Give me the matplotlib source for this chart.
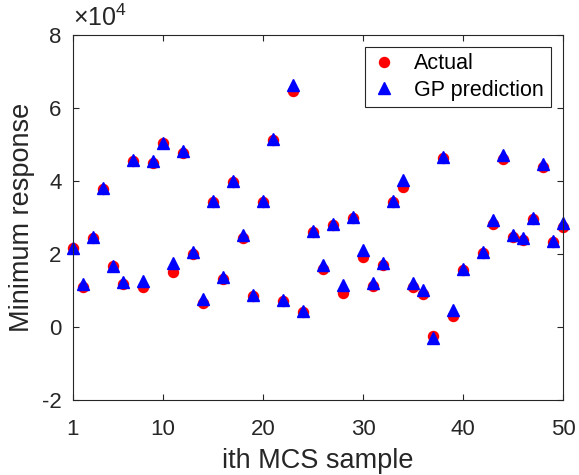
import numpy as np
import matplotlib
matplotlib.use('Agg')
import matplotlib.pyplot as plt

plt.rcParams['font.family'] = ['Liberation Sans', 'DejaVu Sans']
plt.rcParams['mathtext.fontset'] = 'custom'
plt.rcParams['mathtext.rm'] = 'Liberation Sans'
plt.rcParams['mathtext.it'] = 'Liberation Sans'
plt.rcParams['axes.unicode_minus'] = False

# sample index and responses (units of 1e4)
samples = np.arange(1, 51)
actual = [2.15, 1.10, 2.44, 3.78, 1.65, 1.17, 4.53, 1.10, 4.50, 5.04,
          1.49, 4.76, 2.00, 0.66, 3.43, 1.32, 3.97, 2.42, 0.83, 3.43,
          5.12, 0.69, 6.47, 0.40, 2.60, 1.58, 2.78, 0.93, 2.98, 1.90,
          1.12, 1.70, 3.41, 3.82, 1.10, 0.89, -0.26, 4.63, 0.30, 1.56,
          6.90, 2.03, 2.82, 4.61, 2.47, 2.39, 2.94, 4.39, 2.32, 2.74]
gp_pred = [2.17, 1.16, 2.46, 3.81, 1.67, 1.23, 4.56, 1.26, 4.53, 5.05,
           1.75, 4.82, 2.06, 0.75, 3.45, 1.35, 3.99, 2.51, 0.86, 3.45,
           5.14, 0.73, 6.63, 0.43, 2.63, 1.69, 2.81, 1.14, 3.01, 2.11,
           1.21, 1.75, 3.44, 4.02, 1.19, 1.00, -0.32, 4.66, 0.45, 1.58,
           7.00, 2.06, 2.92, 4.70, 2.51, 2.42, 2.97, 4.46, 2.36, 2.85]

xticks = [1, 10, 20, 30, 40, 50]
yticks = [-2, 0, 2, 4, 6, 8]

axcol = '#262626'
fig = plt.figure(figsize=(5.79, 4.75), dpi=100)
ax = fig.add_axes([0.1256, 0.1589, 0.8473, 0.7674])

ax.plot(samples, actual, 'o', color='red', markersize=7.2, label='Actual', clip_on=False)
ax.plot(samples, gp_pred, '^', color='blue', markersize=8, label='GP prediction', clip_on=False)

ax.set_xlim(1, 50)
ax.set_ylim(-2, 8)
ax.set_xticks(xticks)
ax.set_yticks(yticks)
ax.tick_params(direction='in', top=True, right=True, length=4, width=0.8,
               labelsize=16, colors=axcol)
ax.tick_params(axis='x', pad=14)
ax.tick_params(axis='y', pad=8)
for s in ax.spines.values():
    s.set_color(axcol)
    s.set_linewidth(0.8)

ax.set_xlabel('ith MCS sample', fontsize=19.5, color=axcol, labelpad=6)
ax.set_ylabel('Minimum response', fontsize=19.5, color=axcol, labelpad=5)
ax.text(0, 1.012, r'$\times10^{4}$', transform=ax.transAxes, ha='left', va='bottom',
        fontsize=18, color=axcol)

leg = ax.legend(loc='upper right', bbox_to_anchor=(0.974, 0.967), borderaxespad=0,
                fontsize=15.5, fancybox=False, framealpha=1, edgecolor=axcol,
                handlelength=1.2, handletextpad=0.8, borderpad=0.3, labelspacing=0.25)
leg.get_frame().set_linewidth(0.8)
leg.set_zorder(10)

fig.savefig('out.png', dpi=100)
